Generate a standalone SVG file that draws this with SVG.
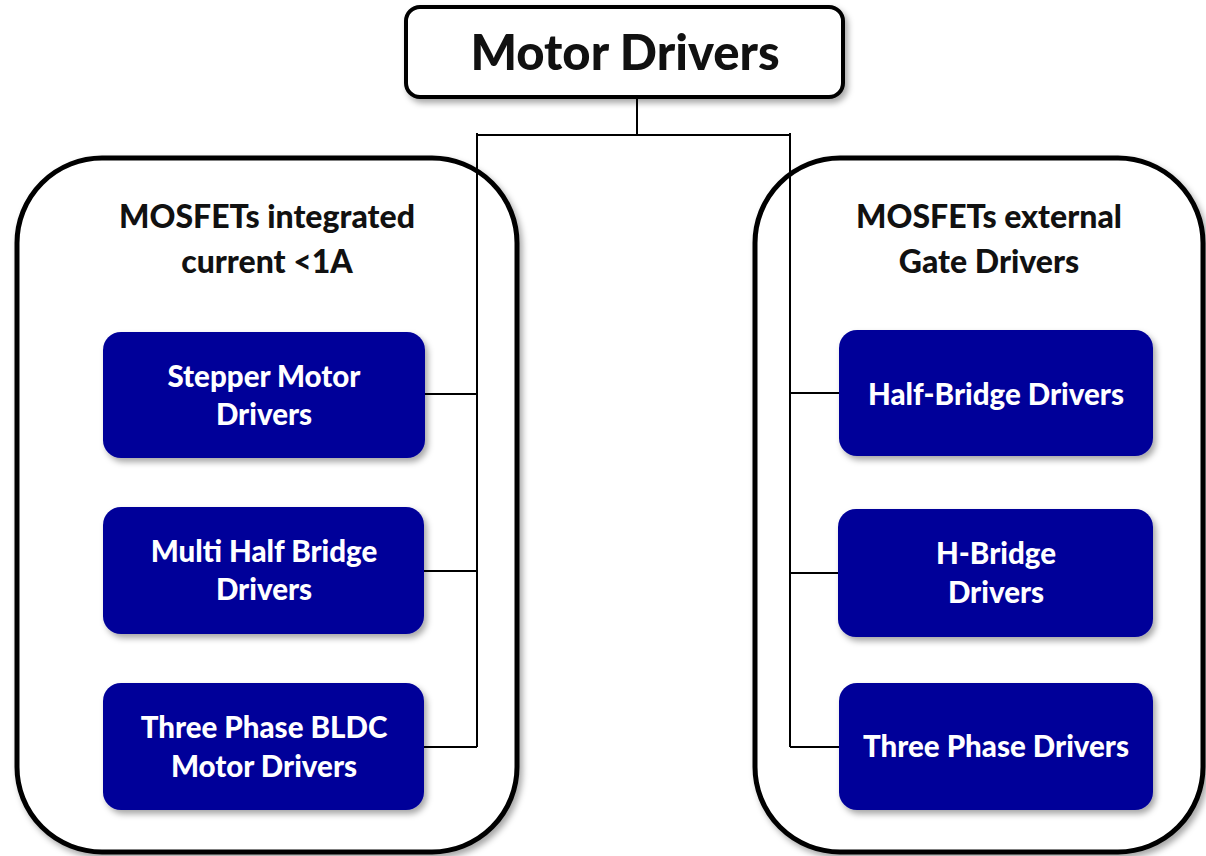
<svg xmlns="http://www.w3.org/2000/svg" width="1206" height="856" viewBox="0 0 1206 856">
<defs>
<filter id="sh" x="-10%" y="-10%" width="125%" height="130%">
<feDropShadow dx="3" dy="4" stdDeviation="3" flood-color="#000" flood-opacity="0.35"/>
</filter>
<style>
.grp{fill:#fff;stroke:#000;stroke-width:5}
.top{fill:#fff;stroke:#000;stroke-width:4}
.blue{fill:#000099}
.conn{fill:none;stroke:#000;stroke-width:2}
.ttl{font-family:Lato,"Open Sans","Liberation Sans",sans-serif;font-weight:900;font-size:32px;fill:#111;text-anchor:middle}
.hdr{font-family:Lato,"Open Sans","Liberation Sans",sans-serif;font-weight:900;font-size:49px;fill:#111;text-anchor:middle}
.lbl{font-family:Lato,"Open Sans","Liberation Sans",sans-serif;font-weight:900;font-size:29.5px;fill:#fff;text-anchor:middle}
</style>
</defs>
<rect width="1206" height="856" fill="#fff"/>
<g id="group-integrated">
<rect class="grp" x="17" y="158" width="500" height="694" rx="85" ry="85" filter="url(#sh)"/>
<text class="ttl" x="267" y="228">MOSFETs integrated</text>
<text class="ttl" x="267" y="273">current &lt;1A</text>
</g>
<g id="group-external">
<rect class="grp" x="755" y="158" width="448" height="694" rx="85" ry="85" filter="url(#sh)"/>
<text class="ttl" x="989" y="228">MOSFETs external</text>
<text class="ttl" x="989" y="273">Gate Drivers</text>
</g>
<g id="connectors">
<path class="conn" d="M637,97 V135 M477,135 H790 M477,133 V747 M790,133 V747"/>
<path class="conn" d="M425,394 H477 M424,571 H477 M424,747 H477"/>
<path class="conn" d="M790,393 H839 M790,573 H838 M790,747 H839"/>
</g>
<g id="motor-drivers">
<rect class="top" x="406" y="7" width="437" height="90" rx="14" ry="14" filter="url(#sh)"/>
<text class="hdr" x="625" y="70">Motor Drivers</text>
</g>
<g id="stepper">
<rect class="blue" x="103" y="332" width="322" height="126" rx="18" ry="18" filter="url(#sh)"/>
<text class="lbl" x="264" y="387">Stepper Motor</text>
<text class="lbl" x="264" y="425">Drivers</text>
</g>
<g id="multi-half-bridge">
<rect class="blue" x="103" y="507" width="321" height="127" rx="18" ry="18" filter="url(#sh)"/>
<text class="lbl" x="264" y="562">Multi Half Bridge</text>
<text class="lbl" x="264" y="600">Drivers</text>
</g>
<g id="bldc">
<rect class="blue" x="103" y="683" width="321" height="127" rx="18" ry="18" filter="url(#sh)"/>
<text class="lbl" x="264" y="738">Three Phase BLDC</text>
<text class="lbl" x="264" y="777">Motor Drivers</text>
</g>
<g id="half-bridge">
<rect class="blue" x="839" y="330" width="314" height="126" rx="18" ry="18" filter="url(#sh)"/>
<text class="lbl" x="996" y="405">Half-Bridge Drivers</text>
</g>
<g id="h-bridge">
<rect class="blue" x="838" y="509" width="315" height="128" rx="18" ry="18" filter="url(#sh)"/>
<text class="lbl" x="996" y="564">H-Bridge</text>
<text class="lbl" x="996" y="603">Drivers</text>
</g>
<g id="three-phase">
<rect class="blue" x="839" y="683" width="314" height="127" rx="18" ry="18" filter="url(#sh)"/>
<text class="lbl" x="996" y="757">Three Phase Drivers</text>
</g>
</svg>
